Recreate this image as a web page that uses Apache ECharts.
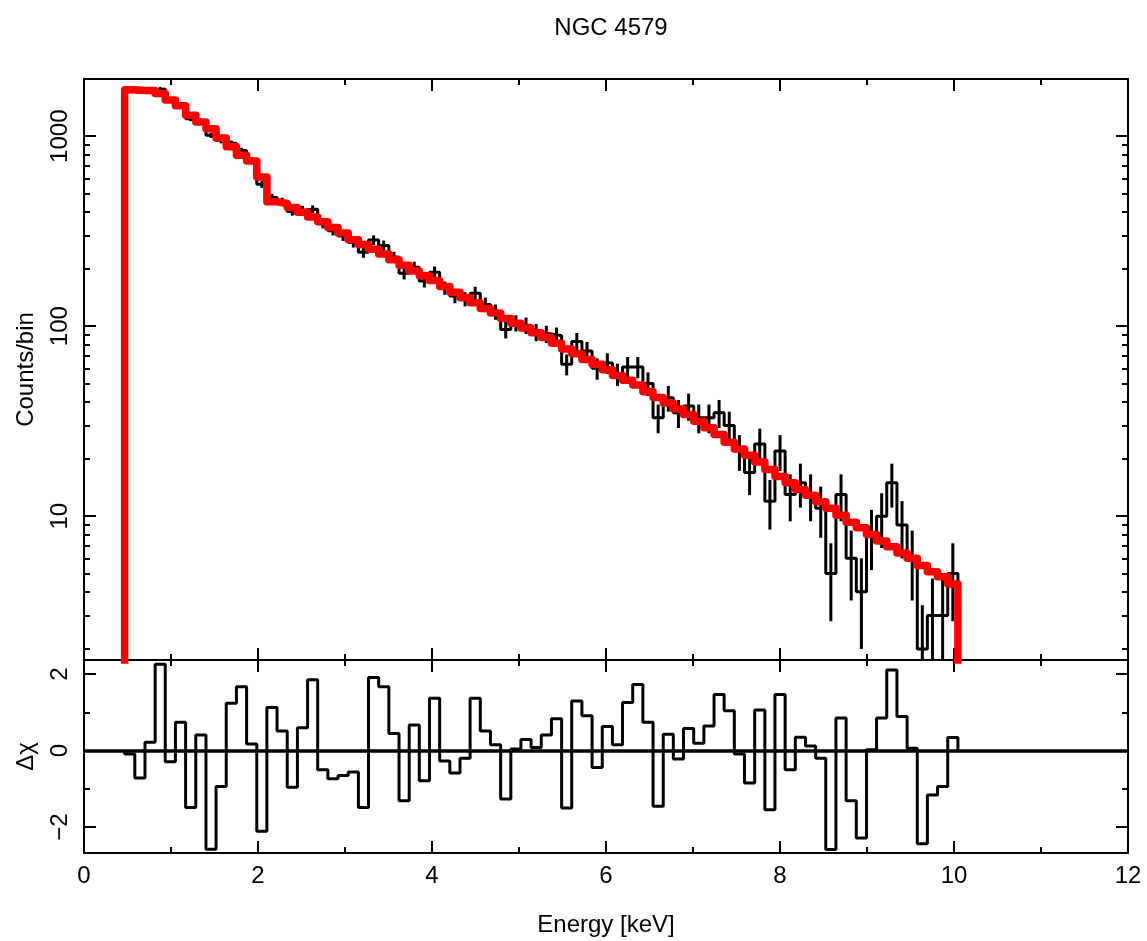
<!DOCTYPE html>
<html>
<head>
<meta charset="utf-8">
<script src="https://cdn.jsdelivr.net/npm/echarts@6/dist/echarts.min.js"></script>
<style>
html,body{margin:0;padding:0;background:#fff;}
#chart{width:1147px;height:941px;}
</style>
</head>
<body>
<div id="chart"></div>
<script>
// Energy bin edges [keV]
const binEdges = [0.467,0.584,0.701,0.818,0.934,1.051,1.168,1.285,1.402,1.518,1.635,1.752,1.869,1.986,2.102,2.219,2.336,2.453,2.570,2.686,2.803,2.920,3.037,3.154,3.270,3.387,3.504,3.621,3.738,3.854,3.971,4.088,4.205,4.322,4.438,4.555,4.672,4.789,4.906,5.022,5.139,5.256,5.373,5.490,5.606,5.723,5.840,5.957,6.074,6.190,6.307,6.424,6.541,6.658,6.774,6.891,7.008,7.125,7.242,7.358,7.475,7.592,7.709,7.826,7.942,8.059,8.176,8.293,8.410,8.526,8.643,8.760,8.877,8.994,9.110,9.227,9.344,9.461,9.578,9.694,9.811,9.928,10.045];
// Observed counts per bin
const dataCounts = [1754,1708,1747,1772,1538,1473,1235,1203,1011,948,918,841,746,558,476,453,402,410,412,346,318,298,276,245,284,266,231,190,204,173,192,159,144,139,149,130,119,96,104,101,93,91,89,63,83,74,60,64,56,61,61,50,33,42,35,38,33,33,35,30,22,17,24,12,22,13,15,13,11,5,13,6,4,8,10,15,9,6,2,3,3,5];
// 1-sigma errors on counts
const dataErrors = [41.9,41.3,41.8,42.1,39.2,38.4,35.1,34.7,31.8,30.8,30.3,29.0,27.3,23.6,21.8,21.3,20.0,20.2,20.3,18.6,17.8,17.3,16.6,15.7,16.9,16.3,15.2,13.8,14.3,13.2,13.9,12.6,12.0,11.8,12.2,11.4,10.9,9.8,10.2,10.0,9.6,9.5,9.4,7.9,9.1,8.6,7.7,8.0,7.5,7.8,7.8,7.1,5.7,6.5,5.9,6.2,5.7,5.7,5.9,5.5,4.7,4.1,4.9,3.5,4.7,3.6,3.9,3.6,3.3,2.2,3.6,2.4,2.0,2.8,3.2,3.9,3.0,2.4,1.4,1.7,1.7,2.2];
// Model counts per bin
const modelCounts = [1758,1738,1738,1679,1549,1445,1288,1189,1096,977,881,794,741,610,452,442,422,398,376,355,331,309,285,269,254,240,224,209,195,184,174,162,151,141,133,124,117.5,109.6,103.5,97.7,92.3,87.1,81.3,75.9,71.6,66.8,63.1,58.9,55.0,51.9,49.0,45.2,42.2,39.4,36.7,34.3,31.6,29.2,26.9,24.5,22.6,20.9,19.3,17.6,16.2,15.0,13.8,12.9,11.9,11.0,10.1,9.3,8.7,8.0,7.4,6.9,6.4,6.0,5.5,5.1,4.8,4.4];
// Residuals (delta chi)
const residuals = [-0.09,-0.72,0.22,2.26,-0.29,0.74,-1.49,0.41,-2.58,-0.94,1.24,1.67,0.17,-2.11,1.13,0.51,-0.96,0.60,1.85,-0.50,-0.74,-0.65,-0.56,-1.49,1.91,1.67,0.45,-1.31,0.67,-0.79,1.37,-0.27,-0.59,-0.20,1.37,0.51,0.15,-1.27,0.04,0.29,0.08,0.41,0.83,-1.50,1.30,0.91,-0.44,0.63,0.15,1.26,1.73,0.74,-1.46,0.43,-0.22,0.58,0.19,0.64,1.47,1.04,-0.09,-0.85,1.06,-1.55,1.47,-0.50,0.35,0.12,-0.20,-2.59,0.85,-1.31,-2.29,0.02,0.85,2.11,0.89,0.06,-2.44,-1.16,-0.94,0.34];
// Axis tick values
const logMajor = [10,100,1000];
const logMinor = [2,3,4,5,6,7,8,9,20,30,40,50,60,70,80,90,200,300,400,500,600,700,800,900];
const resMajor = [-2,0,2];
const resMinor = [-1,1];
const countsRange = [1.75, 2000];
const resRange = [-2.68, 2.37];
const baseline = 1;

function stepPoints(values, startVal, endVal) {
  const pts = [[binEdges[0], startVal]];
  for (let i = 0; i < values.length; i++) {
    pts.push([binEdges[i], values[i]]);
    pts.push([binEdges[i + 1], values[i]]);
  }
  pts.push([binEdges[binEdges.length - 1], endVal]);
  return pts;
}
const errData = dataCounts.map((c, i) => [
  (binEdges[i] + binEdges[i + 1]) / 2, c - dataErrors[i], c + dataErrors[i]
]);

const FONT = 'Liberation Sans';
const tickStyle = {color: '#000', width: 2};
function xAx(grid, pos, labels) {
  return {
    gridIndex: grid, type: 'value', position: pos, min: 0, max: 12, interval: 2,
    axisLine: {show: false, onZero: false},
    axisTick: {show: true, inside: true, length: 12, lineStyle: tickStyle},
    minorTick: {show: true, splitNumber: 2, length: 6, lineStyle: tickStyle},
    splitLine: {show: false}, minorSplitLine: {show: false},
    axisLabel: {show: labels, color: '#000', fontFamily: FONT, fontSize: 24, margin: 11},
    name: labels ? 'Energy [keV]' : '', nameLocation: 'middle', nameGap: 60,
    nameTextStyle: {color: '#000', fontFamily: FONT, fontSize: 24}
  };
}
function yLog(pos, major, name) {
  const ax = {
    gridIndex: 0, type: 'log', logBase: 10, position: pos,
    min: countsRange[0], max: countsRange[1],
    axisLine: {show: false, onZero: false},
    axisTick: {show: true, inside: true, length: major ? 12 : 6, lineStyle: tickStyle,
               customValues: major ? logMajor : logMinor},
    splitLine: {show: false}, minorTick: {show: false},
    axisLabel: {show: false}
  };
  if (major && pos === 'left') {
    ax.axisLabel = {show: true, customValues: logMajor, rotate: 90, margin: 12,
      color: '#000', fontFamily: FONT, fontSize: 24,
      formatter: v => String(Math.round(v))};
    ax.name = name; ax.nameLocation = 'middle'; ax.nameRotate = 90; ax.nameGap = 46;
    ax.nameTextStyle = {color: '#000', fontFamily: FONT, fontSize: 24};
  }
  return ax;
}
function yRes(pos, major, name) {
  const ax = {
    gridIndex: 1, type: 'value', position: pos,
    min: resRange[0], max: resRange[1],
    axisLine: {show: false, onZero: false},
    axisTick: {show: true, inside: true, length: major ? 12 : 6, lineStyle: tickStyle,
               customValues: major ? resMajor : resMinor},
    splitLine: {show: false}, minorTick: {show: false},
    axisLabel: {show: false}
  };
  if (major && pos === 'left') {
    ax.axisLabel = {show: true, customValues: resMajor, rotate: 90, margin: 12,
      color: '#000', fontFamily: FONT, fontSize: 24,
      formatter: v => (v < 0 ? '\u2212' + Math.abs(v) : String(v))};
    ax.name = name; ax.nameLocation = 'middle'; ax.nameRotate = 90; ax.nameGap = 46;
    ax.nameTextStyle = {color: '#000', fontFamily: FONT, fontSize: 24};
  }
  return ax;
}

const chart = echarts.init(document.getElementById('chart'), null, {renderer: 'canvas'});
chart.setOption({
  animation: false,
  backgroundColor: '#fff',
  title: {text: 'NGC 4579', left: 606, textAlign: 'center', top: 11,
    textStyle: {fontFamily: FONT, fontSize: 24, fontWeight: 'normal', color: '#000'}},
  grid: [
    {left: 84, top: 79, width: 1044, height: 581, show: true, borderColor: '#000', borderWidth: 2, backgroundColor: 'transparent'},
    {left: 84, top: 660, width: 1044, height: 193, show: true, borderColor: '#000', borderWidth: 2, backgroundColor: 'transparent'}
  ],
  xAxis: [xAx(0, 'bottom', false), xAx(0, 'top', false), xAx(1, 'bottom', true), xAx(1, 'top', false)],
  yAxis: [
    yLog('left', true, 'Counts/bin'), yLog('left', false), yLog('right', true), yLog('right', false),
    yRes('left', true, '\u0394\u03c7'), yRes('left', false), yRes('right', true), yRes('right', false)
  ],
  series: [
    {type: 'line', xAxisIndex: 0, yAxisIndex: 0, data: stepPoints(dataCounts, baseline, baseline),
     symbol: 'none', clip: true, lineStyle: {color: '#000', width: 3}, z: 2},
    {type: 'custom', xAxisIndex: 0, yAxisIndex: 0, data: errData, z: 2,
     renderItem: function (params, api) {
       const x = api.value(0);
       const lo = Math.max(api.value(1), 0.01);
       const hi = api.value(2);
       const p0 = api.coord([x, lo]);
       const p1 = api.coord([x, hi]);
       const cs = params.coordSys;
       const yb = Math.min(p0[1], cs.y + cs.height);
       const yt = Math.max(p1[1], cs.y);
       return {type: 'line', shape: {x1: p0[0], y1: yb, x2: p0[0], y2: yt},
         style: {stroke: '#000', lineWidth: 3}};
     }},
    {type: 'line', xAxisIndex: 0, yAxisIndex: 0, data: stepPoints(modelCounts, baseline, baseline),
     symbol: 'none', clip: true, lineStyle: {color: '#ff0000', width: 7.5, cap: 'round', join: 'round'}, z: 5},
    {type: 'line', xAxisIndex: 2, yAxisIndex: 4, data: stepPoints(residuals, 0, 0),
     symbol: 'none', clip: true, lineStyle: {color: '#000', width: 3}, z: 3,
     markLine: {silent: true, symbol: 'none', label: {show: false},
       lineStyle: {color: '#000', width: 3.5, type: 'solid'}, data: [{yAxis: 0}]}}
  ]
});
</script>
</body>
</html>
